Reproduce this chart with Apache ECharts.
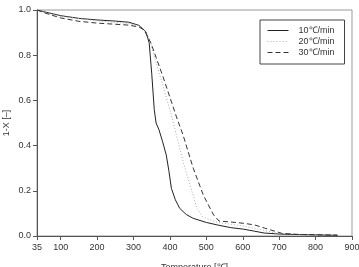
<!DOCTYPE html>
<html>
<head>
<meta charset="UTF-8">
<title>1-X vs Temperature</title>
<script src="https://cdn.jsdelivr.net/npm/echarts@6/dist/echarts.min.js"></script>
<style>
  html, body { margin: 0; padding: 0; background: #fff; }
  #chart { width: 359px; height: 267px; }
</style>
</head>
<body>
<div id="chart"></div>
<script>
// heating rate curves
var names = ['10\u2103/min', '20\u2103/min', '30\u2103/min'];

var temp10 = [35, 60, 100, 150, 200, 250, 287, 315, 334, 343, 350, 357, 362, 370, 380, 390, 397, 404, 415, 427, 445, 464, 500, 530, 567, 603, 630, 659, 707, 800, 860];
var conv10 = [1.0, 0.99, 0.975, 0.963, 0.956, 0.951, 0.946, 0.932, 0.904, 0.855, 0.72, 0.56, 0.50, 0.47, 0.417, 0.358, 0.29, 0.211, 0.16, 0.122, 0.095, 0.078, 0.06, 0.049, 0.037, 0.03, 0.022, 0.013, 0.008, 0.005, 0.003];

var temp20 = [35, 60, 100, 200, 287, 315, 335, 345, 352, 380, 404, 436, 474, 490, 530, 600, 650, 700, 800, 860];
var conv20 = [1.0, 0.988, 0.972, 0.952, 0.94, 0.93, 0.90, 0.87, 0.823, 0.67, 0.535, 0.33, 0.123, 0.085, 0.06, 0.045, 0.028, 0.01, 0.005, 0.004];

var temp30 = [35, 60, 100, 150, 200, 250, 287, 315, 329, 348, 381, 418, 436, 464, 492, 520, 535, 567, 604, 632, 660, 707, 750, 860];
var conv30 = [1.0, 0.985, 0.965, 0.95, 0.942, 0.937, 0.933, 0.925, 0.912, 0.853, 0.705, 0.527, 0.447, 0.30, 0.18, 0.093, 0.066, 0.062, 0.056, 0.049, 0.035, 0.012, 0.007, 0.004];

var xTicks = [35, 100, 200, 300, 400, 500, 600, 700, 800, 900];

function pairs(xs, ys) {
    var out = [];
    for (var i = 0; i < xs.length; i++) out.push([xs[i], ys[i]]);
    return out;
}

var font = 'Liberation Sans, Arial, sans-serif';
var chart = echarts.init(document.getElementById('chart'));
chart.setOption({
    animation: false,
    textStyle: { fontFamily: font },
    grid: {
        left: 37, right: 7, top: 10, bottom: 31,
        outerBoundsMode: 'none', containLabel: false,
        show: true, borderColor: '#999', borderWidth: 1
    },
    legend: {
        orient: 'vertical',
        left: 260, top: 20,
        borderColor: '#444', borderWidth: 1, borderRadius: 0,
        padding: [6, 10, 7, 7],
        itemWidth: 21, itemHeight: 9, itemGap: 2,
        itemStyle: { opacity: 0 },
        lineStyle: { width: 1 },
        textStyle: { fontSize: 9, color: '#333', fontFamily: font, padding: [0, 0, 0, 5] },
        data: names
    },
    xAxis: {
        type: 'value', min: 35, max: 900,
        name: 'Temperature [\u2103]', nameLocation: 'middle', nameGap: 27,
        nameMoveOverlap: false,
        nameTextStyle: { fontSize: 9, color: '#333' },
        axisLine: { lineStyle: { color: '#555' } },
        axisTick: { length: 4, lineStyle: { color: '#555' }, customValues: xTicks },
        axisLabel: { fontSize: 9, color: '#333', margin: 7, customValues: xTicks },
        splitLine: { show: false }
    },
    yAxis: {
        type: 'value', min: 0, max: 1, interval: 0.2,
        name: '1-X [\u2013]', nameLocation: 'middle', nameGap: 26,
        nameMoveOverlap: false,
        nameTextStyle: { fontSize: 9, color: '#333' },
        axisLine: { show: true, lineStyle: { color: '#555' } },
        axisTick: { show: true, length: 4, lineStyle: { color: '#555' } },
        axisLabel: { fontSize: 9, color: '#333', margin: 6, formatter: function (v) { return v.toFixed(1); } },
        splitLine: { show: false }
    },
    series: [
        { name: names[0], type: 'line', symbol: 'none', data: pairs(temp10, conv10),
          lineStyle: { color: '#222', width: 1, type: 'solid' }, itemStyle: { color: '#222' } },
        { name: names[1], type: 'line', symbol: 'none', data: pairs(temp20, conv20),
          lineStyle: { color: '#aaa', width: 1, type: [1, 2] }, itemStyle: { color: '#aaa' } },
        { name: names[2], type: 'line', symbol: 'none', data: pairs(temp30, conv30),
          lineStyle: { color: '#333', width: 1, type: [5, 3] }, itemStyle: { color: '#333' } }
    ]
});
</script>
</body>
</html>
